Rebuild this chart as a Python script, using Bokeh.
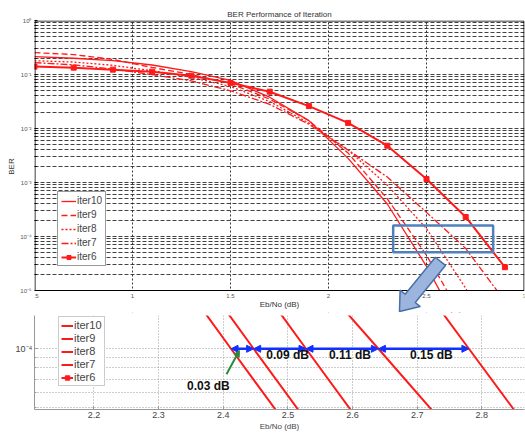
import math
from bokeh.plotting import figure
from bokeh.models import (FixedTicker, CustomJSTickFormatter, Legend, LegendItem, BoxAnnotation,
                          PolyAnnotation, Arrow, NormalHead, Label, Range1d)
from bokeh.layouts import column
from bokeh.embed import file_html
from bokeh.resources import INLINE

# ---------------- data ----------------
ebno = [0.5, 0.7, 0.9, 1.1, 1.3, 1.5, 1.7, 1.9, 2.1, 2.3, 2.5, 2.7, 2.9]
ber_iter10 = [0.214, 0.200, 0.180, 0.150, 0.113, 0.078, 0.038, 0.014, 2.8e-3, 4.0e-4, 2.8e-5, 1.3e-6, 4e-8]
ber_iter9 = [0.254, 0.234, 0.190, 0.135, 0.100, 0.068, 0.035, 0.014, 3.5e-3, 5.0e-4, 4.5e-5, 2.5e-6, 1e-7]
ber_iter8 = [0.180, 0.170, 0.148, 0.117, 0.089, 0.060, 0.0316, 0.0126, 4.0e-3, 8.9e-4, 1.4e-4, 1.1e-5, 5e-7]
ber_iter7 = [0.166, 0.151, 0.126, 0.100, 0.076, 0.050, 0.028, 0.012, 4.0e-3, 1.26e-3, 2.8e-4, 6.0e-5, 6.3e-6]
ber_iter6 = [0.140, 0.134, 0.123, 0.113, 0.095, 0.070, 0.048, 0.026, 0.0127, 4.8e-3, 1.16e-3, 2.3e-4, 2.7e-5]

series_names = ["iter10", "iter9", "iter8", "iter7", "iter6"]

# zoomed view: Eb/No where each curve crosses these BER levels
zoom_ber = [2e-4, 1e-4, 4e-5]
zoom_iter10 = [2.346, 2.412, 2.500]
zoom_iter9 = [2.381, 2.447, 2.535]
zoom_iter8 = [2.462, 2.528, 2.616]
zoom_iter7 = [2.560, 2.640, 2.745]
zoom_iter6 = [2.713, 2.780, 2.869]
gap_labels = ["0.03 dB", "0.09 dB", "0.11 dB", "0.15 dB"]

x_ticks_top = [0.5, 1, 1.5, 2, 2.5, 3]
x_ticks_zoom = [2.2, 2.3, 2.4, 2.5, 2.6, 2.7, 2.8]

# ---------------- styles ----------------
RED = "#ff1a1a"
BLUE = "#1030ff"
FONT = "Liberation Sans"
dashes = {"iter10": "solid", "iter9": "6 3", "iter8": "2 2", "iter7": "7 2 2 2", "iter6": "solid"}

sup_js = """
const s = {"-":"\\u207b","0":"\\u2070","1":"\\u00b9","2":"\\u00b2","3":"\\u00b3","4":"\\u2074",
           "5":"\\u2075","6":"\\u2076","7":"\\u2077","8":"\\u2078","9":"\\u2079"};
const e = Math.round(Math.log10(tick));
return "10" + String(e).split("").map(c => s[c]).join("");
"""

# ---------------- top figure ----------------
# frame: x 34..524 px (0.5..3 dB), y 20..290 px for 1..1e-5; frame is extended 22 px lower
# (blank strip) so that the callout arrow and the x labels can be drawn there.
PX_DB = 490 / 2.5
PX_DEC = 270 / 5.0
X0, X1 = 0.5, 3.0
Y_LOW = 1e-5
EXTRA = 22
y_start = Y_LOW / 10 ** (EXTRA / PX_DEC)

p = figure(width=525, height=313, x_range=Range1d(X0, X1), y_range=Range1d(y_start, 1),
           y_axis_type="log", output_backend="svg", toolbar_location=None,
           title="BER Performance of Iteration",
           min_border_left=34, min_border_right=1, min_border_bottom=1, min_border_top=20)
p.title.align = "center"
p.title.text_font = FONT
p.title.text_font_size = "8px"
p.title.text_font_style = "normal"
p.title.text_color = "#333333"
p.title.standoff = 3
p.outline_line_color = None
p.xaxis.visible = False

xt = FixedTicker(ticks=x_ticks_top)
yt = FixedTicker(ticks=[10.0 ** -k for k in range(6)],
                 minor_ticks=[m * 10.0 ** -k for k in range(1, 6) for m in range(2, 10)])
p.xaxis.ticker = xt
p.xgrid.ticker = xt
p.yaxis.ticker = yt
p.ygrid.ticker = yt
p.yaxis.formatter = CustomJSTickFormatter(code=sup_js)
ax = p.yaxis[0]
ax.major_label_text_font = FONT
ax.major_label_text_font_size = "6px"
ax.major_label_text_color = "#555555"
ax.major_tick_in = 3
ax.major_tick_out = 0
ax.minor_tick_in = 2
ax.minor_tick_out = 0
ax.major_label_standoff = 3
ax.axis_label_standoff = 1
ax.axis_label_text_font = FONT
ax.axis_label_text_font_size = "8px"
ax.axis_label_text_font_style = "normal"
ax.axis_label_text_color = "#333333"
ax.axis_line_color = None
p.yaxis.axis_label = "BER"

p.xgrid.grid_line_color = "#222222"
p.xgrid.grid_line_dash = "2 2"
p.xgrid.grid_line_alpha = 0.9
p.ygrid.grid_line_color = "#222222"
p.ygrid.grid_line_dash = "4 2"
p.ygrid.grid_line_alpha = 0.85
p.ygrid.minor_grid_line_color = "#222222"
p.ygrid.minor_grid_line_dash = "4 2"
p.ygrid.minor_grid_line_alpha = 0.85

top_data = {"iter10": ber_iter10, "iter9": ber_iter9, "iter8": ber_iter8,
            "iter7": ber_iter7, "iter6": ber_iter6}
items = []
for name in series_names:
    rs = [p.line(ebno, top_data[name], line_color=RED,
                 line_width=2 if name == "iter6" else 1.3, line_dash=dashes[name])]
    if name == "iter6":
        rs.append(p.scatter(ebno, top_data[name], marker="square", size=5,
                            fill_color=RED, line_color=RED))
    items.append(LegendItem(label=name, renderers=rs))

# blank strip below the axis (covers grid and curves below 1e-5)
p.add_layout(BoxAnnotation(top=Y_LOW, fill_color="white", fill_alpha=1, line_alpha=0))
# plot box
hx, hy = 0.5 / PX_DB, 0.5 / PX_DEC
p.add_layout(BoxAnnotation(left=X0 + hx, right=X1 - hx, bottom=Y_LOW, top=10 ** (-hy),
                           fill_alpha=0, line_color="#000000", line_alpha=1, line_width=1))

# x tick labels and x axis title in the strip
for t in x_ticks_top:
    p.add_layout(Label(x=t, y=Y_LOW, y_offset=-3, text=f"{t:g}", text_align="center",
                       text_baseline="top", text_font=FONT, text_font_size="6px",
                       text_color="#555555"))
p.add_layout(Label(x=(X0 + X1) / 2, y=Y_LOW, y_offset=-9, text="Eb/No (dB)", text_align="center",
                   text_baseline="top", text_font=FONT, text_font_size="8px",
                   text_color="#333333"))

leg = Legend(items=items, location=(23, 24 + EXTRA), label_text_font=FONT, label_text_font_size="10px",
             label_height=10, glyph_height=10, glyph_width=15, spacing=3, padding=3, margin=0,
             label_standoff=1, border_line_color="#333333", background_fill_alpha=1)
p.add_layout(leg)

# highlighted zoom region
p.add_layout(BoxAnnotation(left=2.33, right=2.84, bottom=5.1e-5, top=1.6e-4,
                           fill_alpha=0, line_color="#4f81bd", line_alpha=1, line_width=2.5))

# block arrow pointing to the zoomed plot (shape built in pixel space, converted back)
def to_px(x, y):
    return (x - X0) * PX_DB, -math.log10(y) * PX_DEC
def from_px(px, py):
    return X0 + px / PX_DB, 10 ** (-py / PX_DEC)
tail = to_px(2.571, 10 ** -4.46)
tip = to_px(2.362, 10 ** -5.39)
dx, dy = tip[0] - tail[0], tip[1] - tail[1]
L = math.hypot(dx, dy)
ux, uy = dx / L, dy / L
nx, ny = -uy, ux
hw, HW, HL = 6.5, 13, 17
neck = (tip[0] - ux * HL, tip[1] - uy * HL)
pts = [(tail[0] + nx * hw, tail[1] + ny * hw), (neck[0] + nx * hw, neck[1] + ny * hw),
       (neck[0] + nx * HW, neck[1] + ny * HW), tip,
       (neck[0] - nx * HW, neck[1] - ny * HW), (neck[0] - nx * hw, neck[1] - ny * hw),
       (tail[0] - nx * hw, tail[1] - ny * hw)]
conv = [from_px(a, b) for a, b in pts]
p.add_layout(PolyAnnotation(xs=[c[0] for c in conv], ys=[c[1] for c in conv],
                            fill_color="#9bb5de", fill_alpha=1, line_color="#4a6fa8",
                            line_alpha=1, line_width=1.5))

# ---------------- zoomed figure ----------------
z = figure(width=525, height=120, x_range=Range1d(2.108, 2.866), y_range=Range1d(4.89e-5, 1.48e-4),
           y_axis_type="log", output_backend="svg", toolbar_location=None,
           min_border_left=32, min_border_right=0, min_border_top=2, min_border_bottom=20)
z.outline_line_color = None
zxt = FixedTicker(ticks=x_ticks_zoom)
zyt = FixedTicker(ticks=[1e-4], minor_ticks=[m * 1e-5 for m in range(5, 10)])
z.xaxis.ticker = zxt
z.xgrid.ticker = zxt
z.yaxis.ticker = zyt
z.ygrid.ticker = zyt
z.yaxis.formatter = CustomJSTickFormatter(code=sup_js)
for ax in (z.xaxis[0], z.yaxis[0]):
    ax.major_label_text_font = FONT
    ax.major_label_text_font_size = "9px"
    ax.major_label_text_color = "#444444"
    ax.major_tick_in = 3
    ax.major_tick_out = 0
    ax.minor_tick_in = 2
    ax.minor_tick_out = 0
    ax.major_label_standoff = 2
    ax.axis_label_standoff = 1
    ax.axis_label_text_font = FONT
    ax.axis_label_text_font_size = "8px"
    ax.axis_label_text_font_style = "normal"
    ax.axis_label_text_color = "#444444"
    ax.axis_line_color = "#999999"
    ax.major_tick_line_color = "#999999"
    ax.minor_tick_line_color = "#999999"
z.xaxis.axis_label = "Eb/No (dB)"

for g in (z.xgrid[0], z.ygrid[0]):
    g.grid_line_color = "#9a9a9a"
    g.grid_line_dash = "1 2"
z.ygrid.minor_grid_line_color = "#9a9a9a"
z.ygrid.minor_grid_line_dash = "1 2"

zoom_data = {"iter10": zoom_iter10, "iter9": zoom_iter9, "iter8": zoom_iter8,
             "iter7": zoom_iter7, "iter6": zoom_iter6}
zitems = []
for name in series_names:
    rs = [z.line(zoom_data[name], zoom_ber, line_color=RED, line_width=2)]
    if name == "iter6":
        rs.append(z.scatter(ebno, ber_iter6, marker="square", size=6,
                            fill_color=RED, line_color=RED))
    zitems.append(LegendItem(label=name, renderers=rs))
zleg = Legend(items=zitems, location=(24, 23), label_text_font=FONT, label_text_font_size="11px",
              label_height=11, glyph_height=11, glyph_width=12, spacing=1, padding=2, margin=0,
              label_standoff=1, border_line_color="#999999", background_fill_alpha=1)
z.add_layout(zleg)

# gaps at BER = 1e-4
ref_ber = zoom_ber[1]
cross = [zoom_data[n][1] for n in series_names]
for i in range(len(cross) - 1):
    z.add_layout(Arrow(x_start=cross[i], y_start=ref_ber, x_end=cross[i + 1], y_end=ref_ber,
                       start=NormalHead(size=7, fill_color=BLUE, line_color=BLUE),
                       end=NormalHead(size=7, fill_color=BLUE, line_color=BLUE),
                       line_color=BLUE, line_width=2.5))

for i in range(1, len(gap_labels)):
    z.add_layout(Label(x=(cross[i] + cross[i + 1]) / 2 + 0.012, y=ref_ber, y_offset=1,
                       text=gap_labels[i], text_align="center", text_baseline="top",
                       text_font=FONT, text_font_size="12px", text_font_style="bold",
                       text_color="#111111"))

# first gap label below, with green pointer
z.add_layout(Label(x=cross[0] - 0.035, y=7.0e-5, text=gap_labels[0], text_align="center",
                   text_baseline="top", text_font=FONT, text_font_size="12px",
                   text_font_style="bold", text_color="#111111"))
z.add_layout(Arrow(x_start=cross[0] - 0.007, y_start=7.4e-5, x_end=cross[0] + 0.013, y_end=9.8e-5,
                   end=NormalHead(size=6, fill_color="#2a8a3a", line_color="#2a8a3a"),
                   line_color="#2a8a3a", line_width=2))

layout = column(p, z, spacing=0)
open("out.html", "w").write(file_html(layout, INLINE))
